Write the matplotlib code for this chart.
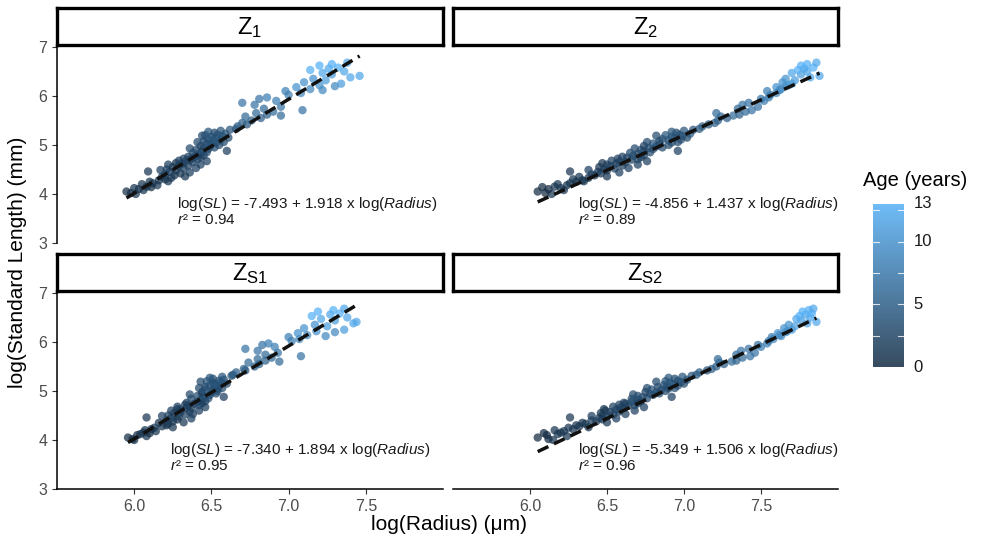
import matplotlib
matplotlib.use("Agg")
import matplotlib.pyplot as plt
from matplotlib.colors import LinearSegmentedColormap, Normalize
import numpy as np

plt.rcParams['font.family'] = ['Liberation Sans', 'DejaVu Sans']
plt.rcParams['mathtext.fontset'] = 'custom'
plt.rcParams['mathtext.rm'] = 'Liberation Sans'
plt.rcParams['mathtext.it'] = 'Liberation Sans:italic'
plt.rcParams['mathtext.bf'] = 'Liberation Sans:bold'

# ---------------- data ----------------
panel_keys = ['Z1', 'Z2', 'ZS1', 'ZS2']
strip_labels = [r'Z$_{\mathrm{1}}$', r'Z$_{\mathrm{2}}$', r'Z$_{\mathrm{S1}}$', r'Z$_{\mathrm{S2}}$']
intercepts = [-7.493, -4.856, -7.340, -5.349]
slopes = [1.918, 1.437, 1.894, 1.506]
r2_values = [0.94, 0.89, 0.95, 0.96]

# log standard length (same fish in each zone)
log_sl = [4.05, 4.02, 4.00, 4.10, 4.12, 4.15, 4.08, 4.20, 4.22, 4.25, 4.18, 4.28, 4.30, 4.46, 4.33, 4.26, 4.35, 4.14,
          4.38, 4.40, 4.42, 4.45, 4.48, 4.50, 4.52, 4.55, 4.57, 4.58, 4.60, 4.62, 4.63, 4.65, 4.66, 4.68, 4.70, 4.71,
          4.72, 4.74, 4.75, 4.76, 4.78, 4.79, 4.44, 4.53, 4.60, 4.36, 4.49, 4.67,
          4.82, 4.84, 4.85, 4.87, 4.88, 4.90, 4.92, 4.94, 4.95, 4.97, 4.98, 5.00, 5.02, 5.03, 5.05, 5.06, 5.08, 5.10,
          5.11, 5.12, 5.14, 5.15, 5.17, 5.18, 5.20, 5.21, 5.23, 5.25, 5.27, 5.29, 5.31, 5.33, 4.93, 5.06, 5.19,
          5.38, 5.42, 5.45, 5.50, 5.55, 5.58, 5.62, 5.65, 5.68, 5.71, 5.74, 5.78, 5.82, 5.86, 5.90, 5.94, 5.97, 5.60,
          6.02, 6.06, 6.10, 6.14, 6.18, 6.20, 6.22, 6.25, 6.28, 6.32, 6.35, 6.38, 6.41, 6.44, 6.47, 6.50, 6.53, 6.56,
          6.58, 6.62, 6.65, 6.68, 6.12]

age = [0, 0, 1, 0, 1, 1, 1, 1, 1, 1, 1, 1, 1, 1, 1, 1, 1, 0,
       1, 2, 1, 2, 1, 2, 2, 1, 2, 2, 2, 2, 1, 2, 2, 2, 2, 3, 2, 2, 2, 2, 3, 2, 2, 2, 2, 1, 2, 2,
       2, 3, 3, 3, 2, 3, 3, 3, 3, 3, 2, 3, 3, 4, 3, 3, 3, 4, 3, 3, 4, 3, 4, 3, 4, 4, 4, 3, 4, 4, 4, 4, 3, 3, 3,
       5, 4, 5, 5, 5, 6, 5, 6, 6, 7, 6, 7, 7, 7, 8, 7, 8, 6,
       8, 9, 8, 9, 10, 9, 10, 11, 10, 11, 10, 12, 12, 11, 12, 12, 13, 12, 13, 13, 13, 12, 9]

log_radius_z1 = [5.95, 5.98, 6.01, 6.03, 6.00, 6.08, 6.06, 6.05, 6.12, 6.10, 6.15, 6.16, 6.20, 6.09, 6.24, 6.22, 6.18, 6.11,
                 6.26, 6.20, 6.30, 6.23, 6.27, 6.21, 6.32, 6.25, 6.29, 6.35, 6.22, 6.31, 6.27, 6.38, 6.33, 6.29, 6.36, 6.41,
                 6.32, 6.38, 6.43, 6.35, 6.40, 6.45, 6.36, 6.40, 6.43, 6.33, 6.17, 6.47,
                 6.42, 6.38, 6.47, 6.44, 6.60, 6.40, 6.48, 6.45, 6.52, 6.49, 6.43, 6.55, 6.50, 6.47, 6.53, 6.58, 6.45, 6.51,
                 6.56, 6.48, 6.53, 6.61, 6.50, 6.57, 6.46, 6.54, 6.59, 6.52, 6.48, 6.56, 6.62, 6.66, 6.36, 6.41, 6.44,
                 6.67, 6.73, 6.70, 6.76, 6.82, 6.72, 6.86, 6.79, 6.90, 7.09, 6.84, 6.95, 6.78, 6.70, 6.92, 6.81, 6.86, 6.95,
                 7.00, 7.08, 6.98, 7.14, 7.05, 7.30, 7.20, 7.34, 7.10, 7.24, 7.16, 7.40, 7.46, 7.28, 7.22, 7.36, 7.14, 7.26,
                 7.32, 7.20, 7.28, 7.38, 7.22]

log_radius_z2 = [6.05, 6.10, 6.14, 6.12, 6.20, 6.16, 6.22, 6.18, 6.26, 6.30, 6.24, 6.34, 6.28, 6.26, 6.38, 6.35, 6.32, 6.08,
                 6.42, 6.40, 6.46, 6.44, 6.50, 6.48, 6.55, 6.45, 6.52, 6.60, 6.50, 6.56, 6.47, 6.62, 6.58, 6.53, 6.66, 6.70,
                 6.57, 6.63, 6.72, 6.60, 6.67, 6.74, 6.58, 6.64, 6.70, 6.50, 6.38, 6.76,
                 6.70, 6.65, 6.78, 6.74, 6.96, 6.72, 6.80, 6.77, 6.86, 6.82, 6.74, 6.90, 6.84, 6.80, 6.92, 6.96, 6.84, 6.90,
                 6.98, 6.86, 6.94, 7.02, 6.92, 6.99, 6.88, 6.97, 7.04, 6.95, 6.92, 7.00, 7.06, 7.10, 6.68, 6.76, 6.82,
                 7.12, 7.16, 7.20, 7.22, 7.28, 7.24, 7.36, 7.21, 7.40, 7.44, 7.35, 7.48, 7.38, 7.42, 7.52, 7.50, 7.55, 7.32,
                 7.56, 7.60, 7.54, 7.63, 7.60, 7.66, 7.68, 7.70, 7.64, 7.72, 7.66, 7.82, 7.88, 7.76, 7.70, 7.80, 7.74, 7.78,
                 7.84, 7.76, 7.80, 7.86, 7.62]

log_radius_zs1 = [5.96, 5.99, 6.00, 6.02, 6.04, 6.06, 6.08, 6.07, 6.11, 6.13, 6.14, 6.18, 6.21, 6.08, 6.22, 6.25, 6.16, 6.10,
                  6.25, 6.21, 6.28, 6.24, 6.29, 6.22, 6.33, 6.26, 6.30, 6.36, 6.24, 6.30, 6.28, 6.37, 6.34, 6.28, 6.35, 6.42,
                  6.33, 6.39, 6.44, 6.34, 6.41, 6.46, 6.37, 6.38, 6.42, 6.32, 6.18, 6.46,
                  6.43, 6.37, 6.48, 6.45, 6.58, 6.41, 6.49, 6.44, 6.53, 6.50, 6.44, 6.54, 6.51, 6.46, 6.54, 6.57, 6.46, 6.52,
                  6.55, 6.49, 6.52, 6.60, 6.51, 6.56, 6.47, 6.55, 6.58, 6.51, 6.49, 6.57, 6.63, 6.64, 6.36, 6.42, 6.43,
                  6.66, 6.72, 6.71, 6.78, 6.81, 6.74, 6.85, 6.80, 6.89, 7.08, 6.85, 6.93, 6.80, 6.72, 6.91, 6.83, 6.87, 6.94,
                  7.02, 7.07, 7.00, 7.12, 7.06, 7.30, 7.18, 7.36, 7.10, 7.25, 7.17, 7.42, 7.44, 7.30, 7.21, 7.38, 7.15, 7.27,
                  7.33, 7.19, 7.29, 7.36, 7.24]

log_radius_zs2 = [6.05, 6.12, 6.15, 6.11, 6.18, 6.20, 6.24, 6.16, 6.28, 6.25, 6.22, 6.32, 6.30, 6.26, 6.36, 6.38, 6.34, 6.09,
                  6.43, 6.40, 6.47, 6.45, 6.50, 6.47, 6.54, 6.46, 6.52, 6.58, 6.49, 6.56, 6.48, 6.61, 6.59, 6.54, 6.64, 6.68,
                  6.58, 6.62, 6.70, 6.61, 6.66, 6.72, 6.56, 6.62, 6.68, 6.50, 6.40, 6.74,
                  6.70, 6.66, 6.76, 6.73, 6.92, 6.70, 6.80, 6.78, 6.84, 6.82, 6.75, 6.88, 6.85, 6.79, 6.90, 6.94, 6.83, 6.89,
                  6.96, 6.87, 6.93, 7.00, 6.91, 6.98, 6.88, 6.96, 7.02, 6.94, 6.90, 6.99, 7.05, 7.08, 6.67, 6.76, 6.82,
                  7.10, 7.15, 7.18, 7.21, 7.26, 7.23, 7.34, 7.22, 7.38, 7.43, 7.34, 7.46, 7.37, 7.42, 7.50, 7.48, 7.54, 7.31,
                  7.55, 7.58, 7.57, 7.62, 7.61, 7.66, 7.67, 7.70, 7.65, 7.72, 7.68, 7.80, 7.86, 7.76, 7.73, 7.82, 7.75, 7.79,
                  7.83, 7.77, 7.81, 7.84, 7.63]

radius_sets = [log_radius_z1, log_radius_z2, log_radius_zs1, log_radius_zs2]
y_ticks = [3, 4, 5, 6, 7]
x_ticks = [6.0, 6.5, 7.0, 7.5]
x_ticklabels = ['6.0', '6.5', '7.0', '7.5']
age_breaks = [0, 5, 10, 13]

# ---------------- figure ----------------
W, H = 984, 546
fig = plt.figure(figsize=(W / 100, H / 100), dpi=100)


def box(x0, y0, x1, y1):
    return [x0 / W, 1 - y1 / H, (x1 - x0) / W, (y1 - y0) / H]


cmap = LinearSegmentedColormap.from_list('gg', ['#132B43', '#56B1F7'])
norm = Normalize(vmin=0, vmax=13)

panel_boxes = [(57, 45, 443, 243), (453, 45, 838, 243), (57, 291, 443, 489), (453, 291, 838, 489)]
strip_boxes = [(57, 8, 443, 45), (453, 8, 838, 45), (57, 254, 443, 291), (453, 254, 838, 291)]
ann_x = [6.28, 6.31, 6.23, 6.31]

for i, key in enumerate(panel_keys):
    ax = fig.add_axes(box(*panel_boxes[i]))
    xr = np.array(radius_sets[i])
    ys = np.array(log_sl)
    ax.scatter(xr, ys, c=age, cmap=cmap, norm=norm, s=36, alpha=0.72,
               edgecolors='none', zorder=2)
    xs = np.array([xr.min(), xr.max()])
    ax.plot(xs, intercepts[i] + slopes[i] * xs, ls=(0, (3.4, 1.8)), color='#111111',
            lw=2.5, zorder=3, dash_capstyle='butt')
    ax.set_xlim(5.5, 8.0)
    ax.set_ylim(3, 7.04)
    for s in ['top', 'right']:
        ax.spines[s].set_visible(False)
    col = i % 2
    row = i // 2
    ax.spines['left'].set_visible(col == 0)
    ax.spines['bottom'].set_visible(row == 1)
    for s in ['left', 'bottom']:
        ax.spines[s].set_linewidth(1.1)
        ax.spines[s].set_color('black')
    ax.tick_params(length=3.5, width=0.8, color='#333333', labelcolor='#4D4D4D', labelsize=11.5)
    if col == 0:
        ax.set_yticks(y_ticks)
        ax.set_yticklabels([str(v) for v in y_ticks])
    else:
        ax.set_yticks([])
    if row == 1:
        ax.set_xticks(x_ticks)
        ax.set_xticklabels(x_ticklabels)
    else:
        ax.set_xticks([])
    ax.patch.set_alpha(0)

    eq = (r'log($\mathit{SL}$) = ' + f'{intercepts[i]:.3f} + {slopes[i]:.3f} x log(' +
          r'$\mathit{Radius}$)')
    ax.text(ann_x[i], 3.80, eq, fontsize=11, va='center', ha='left', color='#1a1a1a')
    ax.text(ann_x[i], 3.47, r'$\mathit{r}$' + f'² = {r2_values[i]:.2f}', fontsize=11,
            va='center', ha='left', color='#1a1a1a')

    sax = fig.add_axes(box(*strip_boxes[i]))
    sax.set_xticks([])
    sax.set_yticks([])
    for s in sax.spines.values():
        s.set_linewidth(2.4)
        s.set_color('black')
    sax.text(0.5, 0.48, strip_labels[i], ha='center', va='center', fontsize=17,
             transform=sax.transAxes)

fig.text(449 / W, 1 - 524 / H, 'log(Radius) (μm)', ha='center', va='center', fontsize=15)
fig.text(18 / W, 1 - 262 / H, 'log(Standard Length) (mm)', ha='center', va='center',
         rotation=90, fontsize=15)

# colour bar
cax = fig.add_axes(box(873, 204, 904, 367))
grad = np.linspace(0, 13, 256).reshape(-1, 1)
cax.imshow(grad, aspect='auto', cmap=cmap, norm=norm, origin='lower',
           extent=[0, 1, 0, 13], alpha=0.85)
cax.set_xlim(0, 1)
cax.set_ylim(0, 13)
cax.set_xticks([])
cax.set_yticks([])
for s in cax.spines.values():
    s.set_visible(False)
for v in [2.5, 5, 7.5, 10, 12.5]:
    cax.plot([0, 0.2], [v, v], color='white', lw=0.8, alpha=0.8)
    cax.plot([0.8, 1], [v, v], color='white', lw=0.8, alpha=0.8)
for v in age_breaks:
    cax.text(1.3, v, str(v), va='center', ha='left', fontsize=12, color='#1a1a1a', clip_on=False)
fig.text(863 / W, 1 - 181 / H, 'Age (years)', ha='left', va='center', fontsize=14.5)

fig.savefig('out.png', dpi=100)
